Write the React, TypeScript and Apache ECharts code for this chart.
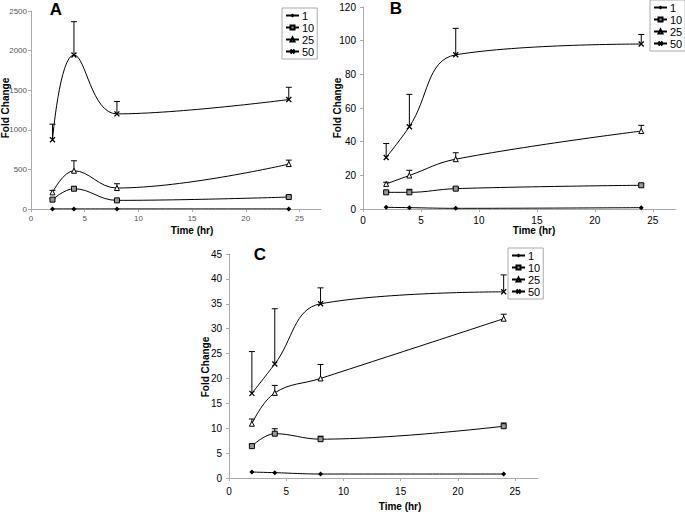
import React, { useEffect, useRef } from "react";
import * as echarts from "echarts";

const timePoints = [2, 4, 8, 24];
const seriesNames = ["1", "10", "25", "50"];
const xTicks = [0, 5, 10, 15, 20, 25];

// Panel A
const a1 = [1, 1, 1, 1];
const a10 = [118, 256, 109, 151];
const a10Err = [12, 21, 11, 14];
const a25 = [210, 483, 265, 567];
const a25Err = [25, 126, 54, 50];
const a50 = [874, 1945, 1201, 1382];
const a50Err = [197, 420, 156, 155];

// Panel B
const b1 = [1.0, 0.8, 0.4, 0.8];
const b10 = [9.9, 9.9, 12.1, 14.1];
const b10Err = [0.5, 1.8, 0.7, 0.8];
const b25 = [14.9, 19.9, 29.6, 46.3];
const b25Err = [1.0, 3.1, 3.8, 3.4];
const b50 = [30.6, 48.9, 91.6, 98.0];
const b50Err = [8.3, 19.2, 15.7, 5.7];

// Panel C
const c1 = [1.2, 1.07, 0.8, 0.8];
const c10 = [6.4, 8.9, 7.8, 10.4];
const c10Err = [0.4, 1.0, 0.6, 0.65];
const c25 = [10.9, 17.1, 20.0, 32.0];
const c25Err = [0.95, 1.5, 2.8, 0.9];
const c50 = [17.0, 22.9, 35.0, 37.4];
const c50Err = [8.4, 11.1, 3.2, 3.4];

const yMaxA = 2500, yIntA = 500;
const yMaxB = 120, yIntB = 20;
const yMaxC = 45, yIntC = 5;

const FONT = "'Liberation Sans', Arial, sans-serif";

const panels = [
  { vals: [a1, a10, a25, a50], errs: [null, a10Err, a25Err, a50Err], max: yMaxA, interval: yIntA },
  { vals: [b1, b10, b25, b50], errs: [null, b10Err, b25Err, b50Err], max: yMaxB, interval: yIntB },
  { vals: [c1, c10, c25, c50], errs: [null, c10Err, c25Err, c50Err], max: yMaxC, interval: yIntC },
];

const symbols = ["diamond", "rect", "triangle", "path://M0,0L10,10M10,0L0,10"];
const symbolSizes = [5, 5, 5, 5];
const symbolStyles = [
  { color: "#000" },
  { color: "#999", borderColor: "#000", borderWidth: 1 },
  { color: "#fff", borderColor: "#000", borderWidth: 1 },
  { color: "#000", borderColor: "#000", borderWidth: 1.3 },
];

export default function App() {
  const ref = useRef<HTMLDivElement>(null);
  useEffect(() => {
    if (!ref.current) return;
    const chart = echarts.init(ref.current, null, { renderer: "svg" });

    const grids = [
      { left: 31, top: 11, width: 290, height: 198 },
      { left: 363, top: 7, width: 313, height: 202 },
      { left: 229, top: 254, width: 309, height: 224 },
    ];
    const labelStyles = [
      { fontSize: 8, color: "#555", yMargin: 4, xMargin: 5 },
      { fontSize: 10, color: "#000", yMargin: 7, xMargin: 6 },
      { fontSize: 10, color: "#000", yMargin: 7, xMargin: 8 },
    ];

    const xAxis = grids.map((_, i) => ({
      type: "value",
      gridIndex: i,
      min: 0,
      max: 27,
      axisLine: { show: true, lineStyle: { color: "#aaa", width: 1 } },
      axisTick: { show: true, customValues: xTicks, length: 3, lineStyle: { color: "#aaa" } },
      axisLabel: {
        customValues: xTicks,
        fontSize: labelStyles[i].fontSize,
        color: labelStyles[i].color,
        fontFamily: FONT,
        margin: labelStyles[i].xMargin,
        formatter: (v: number) => String(v),
      },
      splitLine: { show: false },
    }));
    const yAxis = grids.map((_, i) => ({
      type: "value",
      gridIndex: i,
      min: 0,
      max: panels[i].max,
      interval: panels[i].interval,
      axisLine: { show: true, lineStyle: { color: "#aaa", width: 1 } },
      axisTick: { show: true, length: 3, lineStyle: { color: "#aaa" } },
      axisLabel: {
        fontSize: labelStyles[i].fontSize,
        color: labelStyles[i].color,
        fontFamily: FONT,
        margin: labelStyles[i].yMargin,
        formatter: (v: number) => String(v),
      },
      splitLine: { show: false },
    }));

    const series: any[] = [];
    panels.forEach((p, i) => {
      p.vals.forEach((vals, s) => {
        series.push({
          type: "line",
          name: seriesNames[s],
          xAxisIndex: i,
          yAxisIndex: i,
          data: timePoints.map((t, k) => [t, vals[k]]),
          smooth: 0.4,
          symbol: symbols[s],
          symbolSize: symbolSizes[s],
          showAllSymbol: true,
          lineStyle: { color: "#000", width: 1 },
          itemStyle: symbolStyles[s],
          z: 3,
        });
        const errs = p.errs[s];
        if (errs) {
          series.push({
            type: "custom",
            xAxisIndex: i,
            yAxisIndex: i,
            silent: true,
            z: 2,
            data: timePoints.map((t, k) => [t, vals[k], vals[k] + errs[k]]),
            encode: { x: 0, y: [1, 2] },
            renderItem: (params: any, api: any) => {
              const p0 = api.coord([api.value(0), api.value(1)]);
              const p1 = api.coord([api.value(0), api.value(2)]);
              return {
                type: "group",
                children: [
                  { type: "line", shape: { x1: p0[0], y1: p0[1], x2: p1[0], y2: p1[1] }, style: { stroke: "#000", lineWidth: 1 } },
                  { type: "line", shape: { x1: p1[0] - 3, y1: p1[1], x2: p1[0] + 3, y2: p1[1] }, style: { stroke: "#000", lineWidth: 1 } },
                ],
              };
            },
          });
        }
      });
    });

    const legendBase = {
      orient: "vertical",
      data: seriesNames,
      borderColor: "#aaa",
      borderWidth: 1,
      padding: [2, 3, 2, 3],
      itemWidth: 13,
      itemHeight: 5,
      itemGap: 1,
      selectedMode: false,
      textStyle: { fontSize: 11, fontFamily: FONT, color: "#000", padding: [0, 0, 0, -2] },
      backgroundColor: "#fff",
    };

    const titleStyle = { fontFamily: FONT, fontWeight: "bold", fontSize: 10, fill: "#000" };
    const letterStyle = { fontFamily: FONT, fontWeight: "bold", fontSize: 17, fill: "#000" };

    const graphic = [
      { type: "text", x: 56, y: 9, style: { ...letterStyle, text: "A", align: "center", verticalAlign: "middle" } },
      { type: "text", x: 396, y: 8, style: { ...letterStyle, text: "B", align: "center", verticalAlign: "middle" } },
      { type: "text", x: 260, y: 254, style: { ...letterStyle, text: "C", align: "center", verticalAlign: "middle" } },
      { type: "text", x: 192, y: 230, style: { ...titleStyle, text: "Time (hr)", align: "center", verticalAlign: "middle" } },
      { type: "text", x: 534, y: 230, style: { ...titleStyle, text: "Time (hr)", align: "center", verticalAlign: "middle" } },
      { type: "text", x: 400, y: 506, style: { ...titleStyle, text: "Time (hr)", align: "center", verticalAlign: "middle" } },
      { type: "text", x: 5, y: 108, rotation: Math.PI / 2, style: { ...titleStyle, text: "Fold Change", align: "center", verticalAlign: "middle" } },
      { type: "text", x: 337, y: 108, rotation: Math.PI / 2, style: { ...titleStyle, text: "Fold Change", align: "center", verticalAlign: "middle" } },
      { type: "text", x: 205, y: 367, rotation: Math.PI / 2, style: { ...titleStyle, text: "Fold Change", align: "center", verticalAlign: "middle" } },
    ];

    chart.setOption({
      animation: false,
      backgroundColor: "#fff",
      grid: grids,
      xAxis,
      yAxis,
      series,
      legend: [
        { ...legendBase, left: 282, top: 8 },
        { ...legendBase, left: 650, top: 0 },
        { ...legendBase, left: 508, top: 248 },
      ],
      graphic,
    });
    return () => chart.dispose();
  }, []);
  return (
    <div
      ref={ref}
      style={{ position: "fixed", left: 0, top: 0, width: 685, height: 512 }}
    />
  );
}
